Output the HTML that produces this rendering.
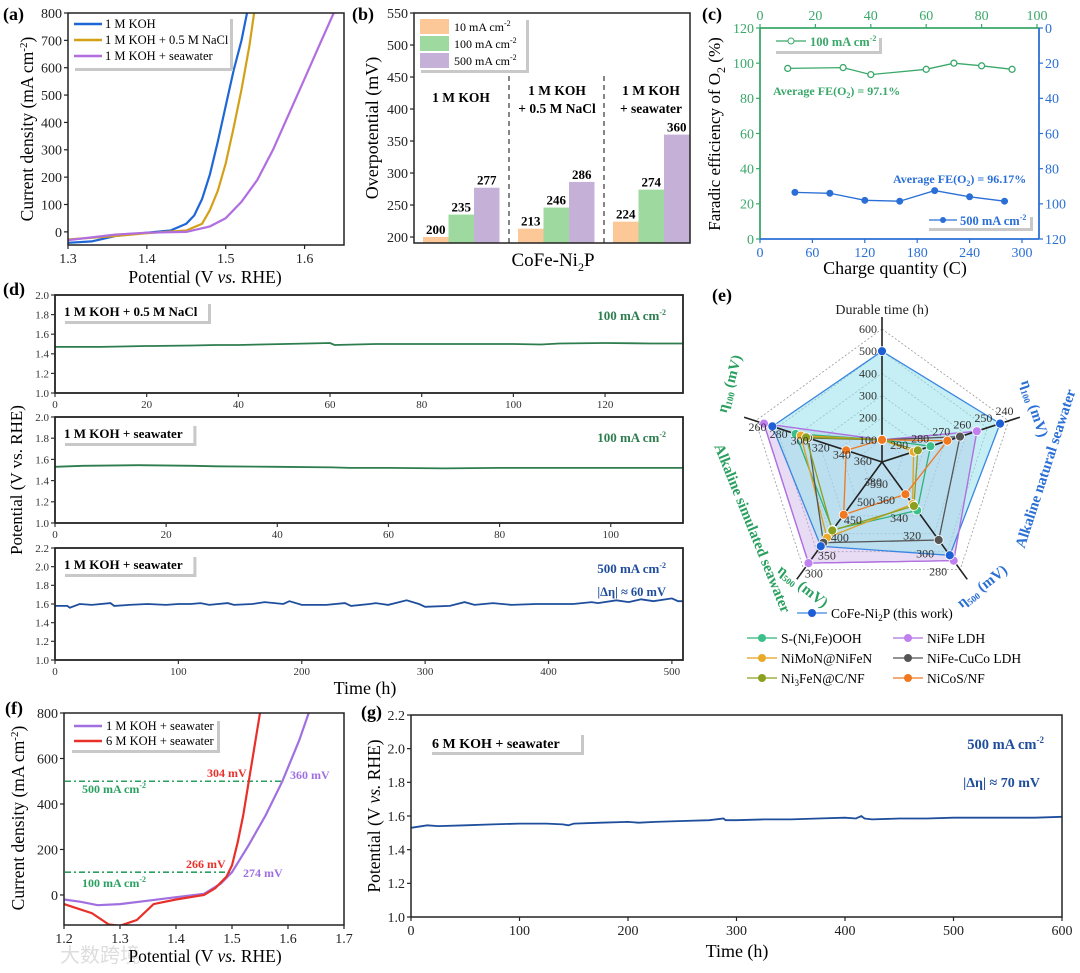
<!DOCTYPE html>
<html><head><meta charset="utf-8"><style>
html,body{margin:0;padding:0;background:#fff;}
svg{display:block;font-family:"Liberation Serif","Noto Serif CJK SC",serif;}
</style></head><body>
<svg id="fig" xmlns="http://www.w3.org/2000/svg" width="1080" height="973" viewBox="0 0 1080 973">
<rect x="0" y="0" width="1080" height="973" fill="#fff"/>
<text x="60" y="962" font-size="20" fill="#ddd" font-family="Liberation Sans, Noto Sans CJK SC, sans-serif">大数跨境</text>
</svg>
<script>
// ---------- DATA ----------
// (a) LSV
const aV_koh=[1.30,1.33,1.36,1.40,1.43,1.45,1.46,1.47,1.48,1.49,1.50,1.51,1.52,1.527];
const aJ_koh=[-40,-35,-15,-3,5,30,60,120,210,330,460,590,700,800];
const aV_nacl=[1.30,1.36,1.40,1.45,1.47,1.48,1.49,1.50,1.51,1.52,1.53,1.536];
const aJ_nacl=[-28,-15,-5,5,30,80,150,250,380,520,680,800];
const aV_sea=[1.30,1.36,1.40,1.45,1.48,1.50,1.52,1.54,1.56,1.58,1.60,1.62,1.637];
const aJ_sea=[-30,-10,-3,0,20,50,110,190,300,430,560,690,800];
const aXTicks=[1.3,1.4,1.5,1.6];
const aYTicks=[0,100,200,300,400,500,600,700,800];
// (b) bars
const bGroups=["1 M KOH","1 M KOH + 0.5 M NaCl","1 M KOH + seawater"];
const b10=[200,213,224];
const b100=[235,246,274];
const b500=[277,286,360];
const bYTicks=[200,250,300,350,400,450,500,550];
// (c) FE
const cQ100=[10,30,40,60,70,80,91];
const cFE100=[97,97.5,93.5,96.5,100,98.5,96.5];
const cQ500=[40,80,120,160,200,240,280];
const cFE500=[93.5,94,98,98.5,92.5,96,98.5];
const cLeftTicks=[0,20,40,60,80,100,120];
const cBottomTicks=[0,60,120,180,240,300];
const cTopTicks=[0,20,40,60,80,100];
// (d) stability
const d1T=[0,10,20,21,30,35,40,50,60,61,70,80,90,100,106,110,120,130,137];
const d1V=[1.47,1.47,1.48,1.48,1.485,1.49,1.49,1.5,1.51,1.49,1.5,1.5,1.5,1.5,1.495,1.505,1.51,1.505,1.505];
const d2T=[0,5,15,25,29,40,50,53,60,70,80,90,100,113];
const d2V=[1.53,1.54,1.545,1.54,1.535,1.53,1.525,1.52,1.52,1.515,1.52,1.52,1.52,1.52];
const d3T=[0,10,12,20,30,45,48,60,75,90,100,110,118,125,140,145,160,170,185,190,200,220,235,240,255,260,270,285,295,300,320,332,340,355,370,390,400,420,435,440,455,465,475,485,500,505,509];
const d3V=[1.58,1.58,1.56,1.6,1.59,1.61,1.58,1.59,1.6,1.59,1.6,1.6,1.61,1.59,1.61,1.59,1.6,1.62,1.6,1.63,1.59,1.59,1.61,1.58,1.6,1.61,1.59,1.64,1.6,1.57,1.58,1.62,1.59,1.61,1.59,1.6,1.6,1.6,1.62,1.61,1.64,1.62,1.65,1.63,1.66,1.63,1.63];
const d1XT=[0,20,40,60,80,100,120];
const d2XT=[0,20,40,60,80,100];
const d3XT=[0,100,200,300,400,500];
const dYT12=[1.0,1.2,1.4,1.6,1.8,2.0];
const dYT3=[1.0,1.2,1.4,1.6,1.8,2.0,2.2];
// (e) radar: durable, eta100 natural, eta500 natural, eta500 simulated, eta100 simulated
const eAxes=["Durable time","η100 natural","η500 natural","η500 simulated","η100 simulated"];
const eNames=["CoFe-Ni2P (this work)","S-(Ni,Fe)OOH","NiFe LDH","NiMoN@NiFeN","NiFe-CuCo LDH","Ni3FeN@C/NF","NiCoS/NF"];
const eCoFe=[500,244,296,365,276];
const eSNiFe=[100,277,346,411,298];
const eNiFe=[100,255,290,318,268];
const eNiMoN=[100,285,353,389,303];
const eNiFeCuCo=[100,263,313,375,310];
const eNi3FeN=[100,283,351,409,308];
const eNiCoS=[100,269,364,453,346];
const eCenter=[0,300,400,600,380];
const eOuter=[600,240,280,300,260];
// (f) LSV 1M vs 6M
const fV_1m=[1.20,1.23,1.26,1.30,1.35,1.40,1.45,1.48,1.50,1.53,1.56,1.59,1.62,1.637];
const fJ_1m=[-20,-30,-45,-40,-25,-10,5,50,100,220,350,500,680,800];
const fV_6m=[1.20,1.25,1.28,1.30,1.33,1.36,1.40,1.45,1.47,1.49,1.50,1.51,1.52,1.53,1.54,1.55];
const fJ_6m=[-40,-80,-130,-135,-110,-40,-20,0,30,80,130,230,350,500,650,800];
const fXT=[1.2,1.3,1.4,1.5,1.6,1.7];
const fYT=[0,200,400,600,800];
// (g) 6M stability
const gT=[0,15,25,50,75,100,125,140,145,150,175,200,210,225,250,275,288,290,300,325,350,375,400,410,415,418,425,450,475,500,525,550,575,600];
const gV=[1.53,1.545,1.54,1.545,1.55,1.555,1.555,1.55,1.545,1.555,1.56,1.565,1.56,1.565,1.57,1.575,1.585,1.575,1.575,1.58,1.58,1.585,1.59,1.585,1.6,1.585,1.58,1.585,1.585,1.59,1.59,1.59,1.59,1.595];
const gXT=[0,100,200,300,400,500,600];
const gYT=[1.0,1.2,1.4,1.6,1.8,2.0,2.2];

// ---------- HELPERS ----------
const NS="http://www.w3.org/2000/svg";
const svg=document.getElementById('fig');
function mk(tag,a,p){const e=document.createElementNS(NS,tag);for(const k in a)e.setAttribute(k,a[k]);(p||svg).appendChild(e);return e;}
function tx(s,a,p){const e=mk('text',a,p);e.innerHTML=s;return e;}
function lin(d0,d1,r0,r1){return v=>r0+(v-d0)*(r1-r0)/(d1-d0);}
function pathOf(xs,ys,X,Y){return xs.map((v,i)=>(i?'L':'M')+X(v).toFixed(1)+','+Y(ys[i]).toFixed(1)).join('');}
function grp(name){const g=mk('g',{});return g;}
function frame(g,l,t,r,b,sw){const e=mk('rect',{x:l,y:t,width:r-l,height:b-t,fill:'none',stroke:'#222','stroke-width':sw||1.5},g);return e;}
function xTicks(g,vals,X,yb,fs,col,fmt,len){for(const v of vals){const x=X(v);const t=mk('line',{x1:x,x2:x,y1:yb,y2:yb+(len||4),stroke:col||'#222','stroke-width':1.2},g);const l=tx(fmt?fmt(v):String(v),{x:x,y:yb+fs+4,'font-size':fs,'text-anchor':'middle',fill:col||'#222'},g);}}
function yTicks(g,vals,Y,xl,fs,col,fmt,side){for(const v of vals){const y=Y(v);const d=side==='r'?4:-4;const t=mk('line',{x1:xl,x2:xl+d,y1:y,y2:y,stroke:col||'#222','stroke-width':1.2},g);const l=tx(fmt?fmt(v):String(v),{x:xl+(side==='r'?6:-6),y:y+fs*0.35,'font-size':fs,'text-anchor':side==='r'?'start':'end',fill:col||'#222'},g);}}
function shadowBox(g,x,y,w,h){const s=mk('rect',{x:x+3,y:y+3,width:w,height:h,fill:'#c8c8c8'},g);const b=mk('rect',{x:x,y:y,width:w,height:h,fill:'#fff'},g);}

// ---------- (a) ----------
{const g=grp('panel-a');
const X=lin(1.3,1.65,68,344),Y=lin(-48,800,245,13);
const lbl=tx('(a)',{x:3,y:20,'font-size':18,'font-weight':'bold'},g);
const cp=mk('clipPath',{id:'ca'},g);mk('rect',{x:68,y:13,width:276,height:232},cp);
const series=[[aV_koh,aJ_koh,'#1f66d6','line-1m-koh'],[aV_nacl,aJ_nacl,'#d4a017','line-1m-koh-nacl'],[aV_sea,aJ_sea,'#b06ee0','line-1m-koh-seawater']];
for(const s of series){const p=mk('path',{d:pathOf(s[0],s[1],X,Y),fill:'none',stroke:s[2],'stroke-width':2.2,'clip-path':'url(#ca)'},g);}
frame(g,68,13,344,245);
xTicks(g,aXTicks,X,245,14,'#222',v=>v.toFixed(1));
yTicks(g,aYTicks,Y,68,14);
shadowBox(g,72,16,158,52);
const items=[['1 M KOH','#1f66d6'],['1 M KOH + 0.5 M NaCl','#d4a017'],['1 M KOH + seawater','#b06ee0']];
items.forEach((it,i)=>{const y=24+i*16;const l=mk('line',{x1:74,x2:102,y1:y,y2:y,stroke:it[1],'stroke-width':2.5},g);const t=tx(it[0],{x:105,y:y+4,'font-size':12.5},g);});
const yt=tx('Current density (mA cm<tspan dy="-6" font-size="11">-2</tspan><tspan dy="6">)</tspan>',{x:0,y:0,'font-size':17.5,'text-anchor':'middle',transform:'translate(33,129) rotate(-90)'},g);
const xt=tx('Potential (V <tspan font-style="italic">vs.</tspan> RHE)',{x:205,y:283,'font-size':17.5,'text-anchor':'middle'},g);}

// ---------- (b) ----------
{const g=grp('panel-b');
const Y=lin(200,550,237,13);const base=243;
const lbl=tx('(b)',{x:352,y:20,'font-size':18,'font-weight':'bold'},g);
const cols=['#fdc898','#9ed9a0','#c5b0d8'];const sets=[b10,b100,b500];
bGroups.forEach((gn,gi)=>{sets.forEach((arr,si)=>{const x=423+gi*95+si*25.5;const y=Y(arr[gi]);const r=mk('rect',{x:x,y:y,width:25.5,height:base-y,fill:cols[si]},g);const t=tx(String(arr[gi]),{x:x+12.7,y:y-3,'font-size':13,'font-weight':'bold','text-anchor':'middle'},g);});});
[509,604].forEach(x=>{const l=mk('line',{x1:x,x2:x,y1:76,y2:243,stroke:'#444','stroke-width':1.3,'stroke-dasharray':'5,4'},g);});
frame(g,414,13,690,243);
yTicks(g,bYTicks,Y,414,14);
const gl=[[461,102,'1 M KOH'],[557,95,'1 M KOH'],[557,113,'+ 0.5 M NaCl'],[651,95,'1 M KOH'],[651,113,'+ seawater']];
gl.forEach(a=>{const t=tx(a[2],{x:a[0],y:a[1],'font-size':13.5,'font-weight':'bold','text-anchor':'middle'},g);});
shadowBox(g,418,17,108,53);
['10','100','500'].forEach((s,i)=>{const y=19+i*17;const r=mk('rect',{x:420,y:y,width:29,height:15,fill:cols[i]},g);const t=tx(s+' mA cm<tspan dy="-5" font-size="8">-2</tspan>',{x:454,y:y+12,'font-size':12},g);});
const yt=tx('Overpotential (mV)',{x:0,y:0,'font-size':18,'text-anchor':'middle',transform:'translate(378,128) rotate(-90)'},g);
const xt=tx('CoFe-Ni<tspan dy="5" font-size="12">2</tspan><tspan dy="-5">P</tspan>',{x:553,y:266,'font-size':19,'text-anchor':'middle'},g);}

// ---------- (c) ----------
{const g=grp('panel-c');const GC='#3aa86a',BC='#2a6fd6';
const XB=lin(0,300,760,1022),XT=lin(0,100,760,1037),YL=lin(0,120,239,28),YR=lin(0,120,28,239);
const lbl=tx('(c)',{x:702,y:20,'font-size':18,'font-weight':'bold'},g);
const e1=mk('line',{x1:760,x2:1039,y1:28,y2:28,stroke:GC,'stroke-width':1.8},g);
const e2=mk('line',{x1:760,x2:760,y1:28,y2:239,stroke:GC,'stroke-width':1.8},g);
const e3=mk('line',{x1:760,x2:1039,y1:239,y2:239,stroke:BC,'stroke-width':1.8},g);
const e4=mk('line',{x1:1039,x2:1039,y1:28,y2:239,stroke:BC,'stroke-width':1.8},g);
yTicks(g,cLeftTicks,YL,760,14,GC);
yTicks(g,cLeftTicks,YR,1039,14,BC,null,'r');
xTicks(g,cBottomTicks,XB,239,14,BC);
for(const v of cTopTicks){const x=XT(v);const t=mk('line',{x1:x,x2:x,y1:28,y2:24,stroke:GC,'stroke-width':1.2},g);const l=tx(String(v),{x:x,y:20,'font-size':14,'text-anchor':'middle',fill:GC},g);}
const p1=mk('path',{d:pathOf(cQ100,cFE100,XT,YL),fill:'none',stroke:GC,'stroke-width':1.3},g);
cQ100.forEach((q,i)=>{const c=mk('circle',{cx:XT(q),cy:YL(cFE100[i]),r:3,fill:'#fff',stroke:GC,'stroke-width':1.3},g);});
const p2=mk('path',{d:pathOf(cQ500,cFE500,XB,YR),fill:'none',stroke:BC,'stroke-width':1.3},g);
cQ500.forEach((q,i)=>{const c=mk('circle',{cx:XB(q),cy:YR(cFE500[i]),r:3,fill:BC,stroke:BC},g);});
shadowBox(g,773,35,106,16);
const l1=mk('line',{x1:776,x2:806,y1:41,y2:41,stroke:GC,'stroke-width':1.3},g);
const c1=mk('circle',{cx:791,cy:41,r:3,fill:'#fff',stroke:GC},g);
const t1=tx('100 mA cm<tspan dy="-5" font-size="8">-2</tspan>',{x:810,y:46,'font-size':12.5,'font-weight':'bold',fill:GC},g);
const a1=tx('Average FE(O<tspan dy="3" font-size="8">2</tspan><tspan dy="-3">) = 97.1%</tspan>',{x:773,y:95,'font-size':12,'font-weight':'bold',fill:GC},g);
const a2=tx('Average FE(O<tspan dy="3" font-size="8">2</tspan><tspan dy="-3">) = 96.17%</tspan>',{x:893,y:183,'font-size':12,'font-weight':'bold',fill:BC},g);
shadowBox(g,926,214,104,14);
const l2=mk('line',{x1:929,x2:957,y1:220,y2:220,stroke:BC,'stroke-width':1.3},g);
const c2=mk('circle',{cx:943,cy:220,r:3,fill:BC},g);
const t2=tx('500 mA cm<tspan dy="-5" font-size="8">-2</tspan>',{x:960,y:225,'font-size':12.5,'font-weight':'bold',fill:BC},g);
const yt=tx('Faradic efficiency of O<tspan dy="5" font-size="12">2</tspan><tspan dy="-5"> (%)</tspan>',{x:0,y:0,'font-size':17,'text-anchor':'middle',transform:'translate(720,134) rotate(-90)'},g);
const xt=tx('Charge quantity (C)',{x:895,y:274,'font-size':18,'text-anchor':'middle'},g);}

// ---------- (d) ----------
{const g=grp('panel-d');
const lbl=tx('(d)',{x:3,y:295,'font-size':18,'font-weight':'bold'},g);
const subs=[[295,393,137,1,2,d1T,d1V,d1XT,dYT12,'#2e7d4f','1 M KOH + 0.5 M NaCl','100 mA cm<tspan dy="-5" font-size="8">-2</tspan>',null],
[417,523,113,1,2,d2T,d2V,d2XT,dYT12,'#2e7d4f','1 M KOH + seawater','100 mA cm<tspan dy="-5" font-size="8">-2</tspan>',null],
[548,660,509,1,2.2,d3T,d3V,d3XT,dYT3,'#1f4e9c','1 M KOH + seawater','500 mA cm<tspan dy="-5" font-size="8">-2</tspan>','|Δη| ≈ 60 mV']];
subs.forEach((s,i)=>{const sg=mk('g',{},g);
const X=lin(0,s[2],55,683),Y=lin(s[3],s[4],s[1],s[0]);
const p=mk('path',{d:pathOf(s[5],s[6],X,Y),fill:'none',stroke:s[9],'stroke-width':1.8},sg);
frame(sg,55,s[0],683,s[1],1.8);
xTicks(sg,s[7],X,s[1],11,'#333');
yTicks(sg,s[8],Y,55,11,'#333',v=>v.toFixed(1));
const w=s[10].length*7.3;shadowBox(sg,62,s[0]+6,w,20);
const bt=tx(s[10],{x:64,y:s[0]+21,'font-size':13,'font-weight':'bold'},sg);
const ct=tx(s[11],{x:666,y:s[0]+25,'font-size':13,'font-weight':'bold','text-anchor':'end',fill:s[9]},sg);
if(s[12]){const dt=tx(s[12],{x:666,y:s[0]+48,'font-size':12.5,'font-weight':'bold','text-anchor':'end',fill:s[9]},sg);}});
const yt=tx('Potential (V vs. RHE)',{x:0,y:0,'font-size':17,'text-anchor':'middle',transform:'translate(22,480) rotate(-90)'},g);
const xt=tx('Time (h)',{x:365,y:694,'font-size':18,'text-anchor':'middle'},g);}

// ---------- (e) radar ----------
{const g=grp('panel-e');const CX=882,CY=462,R=133;
const lbl=tx('(e)',{x:712,y:301,'font-size':18,'font-weight':'bold'},g);
const ang=k=>(-90+72*k)*Math.PI/180;
const pt=(k,frac)=>[CX+R*frac*Math.cos(ang(k)),CY+R*frac*Math.sin(ang(k))];
const fr=(k,v)=>(v-eCenter[k])/(eOuter[k]-eCenter[k]);
for(let i=1;i<=6;i++){const pts=[0,1,2,3,4].map(k=>pt(k,i/6).map(n=>n.toFixed(1)).join(',')).join(' ');const r=mk('polygon',{points:pts,fill:'none',stroke:'#999','stroke-width':0.8,'stroke-dasharray':'2,2'},g);}
const poly=(vals,fill,stroke,name)=>{const pts=vals.map((v,k)=>pt(k,fr(k,v)).map(n=>n.toFixed(1)).join(',')).join(' ');const p=mk('polygon',{points:pts,fill:fill,stroke:stroke,'stroke-width':1.3},g);};
poly(eNiFe,'rgba(205,175,230,0.45)','#b070e0','radar-nife-ldh-fill');
poly(eCoFe,'rgba(150,225,235,0.55)','#3b86e0','radar-cofe-ni2p');
poly(eNiFe,'none','#b070e0','radar-nife-ldh');
for(let k=0;k<5;k++){const e=pt(k,1.09);const a=mk('line',{x1:CX,y1:CY,x2:e[0],y2:e[1],stroke:'#222','stroke-width':1.6},g);}
const others=[[eSNiFe,'#2db37a','radar-s-nife-ooh'],[eNiMoN,'#e0a020','radar-nimon-nifen'],[eNiFeCuCo,'#555','radar-nife-cuco-ldh'],[eNi3FeN,'#8ca020','radar-ni3fen'],[eNiCoS,'#f07820','radar-nicos']];
for(const o of others)poly(o[0],'none',o[1],o[2]);
const all=[[eNiFe,'#c080f0'],[eSNiFe,'#3cc08a'],[eNiMoN,'#e8aa28'],[eNiFeCuCo,'#555'],[eNi3FeN,'#8ca020'],[eNiCoS,'#f07820'],[eCoFe,'#1f5fd6']];
for(const s of all){s[0].forEach((v,k)=>{const p=pt(k,fr(k,v));const c=mk('circle',{cx:p[0],cy:p[1],r:4.5,fill:s[1],stroke:'#fff','stroke-width':0.8},g);});}
const tickLabels=[[100,200,300,400,500,600],[290,280,270,260,250,240],[380,360,340,320,300,280],[550,500,450,400,350,300],[360,340,320,300,280,260]];
const offs=[[-14,4],[-4,-6],[-22,6],[10,8],[2,10]];
tickLabels.forEach((arr,k)=>arr.forEach((v,i)=>{const p=pt(k,(i+1)/6);const t=tx(String(v),{x:p[0]+offs[k][0],y:p[1]+offs[k][1],'font-size':12,'text-anchor':'middle',fill:'#333'},g);}));
const GC='#2aa060',BC='#2a6fd6';
const titles=[['Durable time (h)',882,314,0,'#222',false,14],
['η<tspan dy="3" font-size="9">100</tspan><tspan dy="-3"> (mV)</tspan>',1030,410,72,BC,true,15],
['Alkaline natural seawater',1050,470,-72,BC,true,15],
['η<tspan dy="3" font-size="9">500</tspan><tspan dy="-3"> (mV)</tspan>',985,590,-38,BC,true,15],
['η<tspan dy="3" font-size="9">500</tspan><tspan dy="-3"> (mV)</tspan>',800,590,38,GC,true,15],
['Alkaline simulated seawater',748,530,68,GC,true,15],
['η<tspan dy="3" font-size="9">100</tspan><tspan dy="-3"> (mV)</tspan>',734,385,-75,GC,true,15]];
titles.forEach(a=>{const t=tx(a[0],{x:0,y:0,'font-size':a[6],'font-weight':a[5]?'bold':'normal','text-anchor':'middle',fill:a[4],transform:'translate('+a[1]+','+a[2]+') rotate('+a[3]+')'},g);});
const leg=[[eNames[0],'#3b86e0','#1f5fd6',817,613],[eNames[1],'#2db37a','#3cc08a',767,638],[eNames[2],'#b070e0','#c080f0',913,638],[eNames[3],'#e0a020','#e8aa28',767,658],[eNames[4],'#555','#555',913,658],[eNames[5],'#8ca020','#8ca020',767,678],[eNames[6],'#f07820','#f07820',913,678]];
leg.forEach((L,i)=>{const l=mk('line',{x1:L[3]-20,x2:L[3]+10,y1:L[4],y2:L[4],stroke:L[1],'stroke-width':1.3},g);const c=mk('circle',{cx:L[3]-5,cy:L[4],r:4,fill:L[2]},g);
let s=L[0].replace('Ni2P','Ni<tspan dy="3" font-size="9">2</tspan><tspan dy="-3">P</tspan>').replace('Ni3FeN','Ni<tspan dy="3" font-size="9">3</tspan><tspan dy="-3">FeN</tspan>');const t=tx(s,{x:L[3]+14,y:L[4]+5,'font-size':13.5},g);});}

// ---------- (f) ----------
{const g=grp('panel-f');
const X=lin(1.2,1.7,64,344),Y=lin(-132,800,925,713);
const lbl=tx('(f)',{x:5,y:714,'font-size':18,'font-weight':'bold'},g);
const cp=mk('clipPath',{id:'cf'},g);mk('rect',{x:64,y:713,width:280,height:212},cp);
[[500,283],[100,233]].forEach(a=>{const l=mk('line',{x1:65,x2:a[1],y1:Y(a[0]),y2:Y(a[0]),stroke:'#2aa060','stroke-width':1.6,'stroke-dasharray':'6,3,2,3'},g);});
const p1=mk('path',{d:pathOf(fV_1m,fJ_1m,X,Y),fill:'none',stroke:'#a070e0','stroke-width':2.2,'clip-path':'url(#cf)'},g);
const p2=mk('path',{d:pathOf(fV_6m,fJ_6m,X,Y),fill:'none',stroke:'#e8302a','stroke-width':2.2,'clip-path':'url(#cf)'},g);
frame(g,64,713,344,925);
xTicks(g,fXT,X,925,14,'#222',v=>v.toFixed(1));
yTicks(g,fYT,Y,64,14);
shadowBox(g,69,718,148,32);
[['1 M KOH + seawater','#a070e0'],['6 M KOH + seawater','#e8302a']].forEach((it,i)=>{const y=726+i*15;const l=mk('line',{x1:74,x2:102,y1:y,y2:y,stroke:it[1],'stroke-width':2.5},g);const t=tx(it[0],{x:106,y:y+4,'font-size':12.5},g);});
const ann=[['500 mA cm<tspan dy="-5" font-size="8">-2</tspan>',82,793,'#2aa060'],['100 mA cm<tspan dy="-5" font-size="8">-2</tspan>',82,887,'#2aa060'],['304 mV',207,777,'#e8302a'],['360 mV',290,779,'#a070e0'],['266 mV',186,868,'#e8302a'],['274 mV',243,877,'#a070e0']];
ann.forEach(a=>{const t=tx(a[0],{x:a[1],y:a[2],'font-size':12,'font-weight':'bold',fill:a[3]},g);});
const yt=tx('Current density (mA cm<tspan dy="-6" font-size="11">-2</tspan><tspan dy="6">)</tspan>',{x:0,y:0,'font-size':17.5,'text-anchor':'middle',transform:'translate(24,818) rotate(-90)'},g);
const xt=tx('Potential (V <tspan font-style="italic">vs.</tspan> RHE)',{x:205,y:962,'font-size':17.5,'text-anchor':'middle'},g);}

// ---------- (g) ----------
{const g=grp('panel-g');
const X=lin(0,600,411,1062),Y=lin(1.0,2.2,917,715);
const lbl=tx('(g)',{x:361,y:718,'font-size':18,'font-weight':'bold'},g);
const p=mk('path',{d:pathOf(gT,gV,X,Y),fill:'none',stroke:'#1f4e9c','stroke-width':1.8},g);
frame(g,411,715,1062,917);
xTicks(g,gXT,X,917,14,'#222');
yTicks(g,gYT,Y,411,14,'#222',v=>v.toFixed(1));
shadowBox(g,429,732,152,20);
const bt=tx('6 M KOH + seawater',{x:432,y:748,'font-size':14,'font-weight':'bold'},g);
const ct=tx('500 mA cm<tspan dy="-6" font-size="9">-2</tspan>',{x:1044,y:749,'font-size':14.5,'font-weight':'bold','text-anchor':'end',fill:'#1f4e9c'},g);
const dt=tx('|Δη| ≈ 70 mV',{x:1040,y:787,'font-size':14,'font-weight':'bold','text-anchor':'end',fill:'#1f4e9c'},g);
const yt=tx('Potential (V <tspan font-style="italic">vs.</tspan> RHE)',{x:0,y:0,'font-size':17.5,'text-anchor':'middle',transform:'translate(380,816) rotate(-90)'},g);
const xt=tx('Time (h)',{x:737,y:957,'font-size':18,'text-anchor':'middle'},g);}
</script>
</body></html>
